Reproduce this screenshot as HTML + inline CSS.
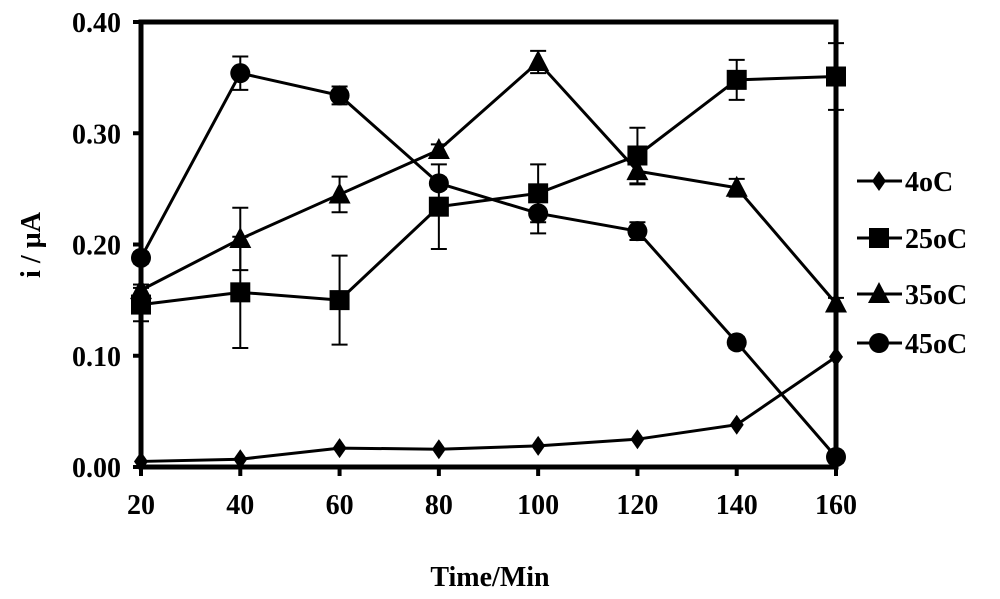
<!DOCTYPE html>
<html><head><meta charset="utf-8"><style>
body{margin:0;background:#fff}
svg text{font-family:"Liberation Serif",serif;font-weight:bold;fill:#000}
</style></head><body>
<svg id="c" width="1000" height="594"></svg>
<script>
const times=[20,40,60,80,100,120,140,160];
const s4=[0.005,0.007,0.017,0.016,0.019,0.025,0.038,0.099];
const s25=[0.146,0.157,0.150,0.234,0.246,0.280,0.348,0.351];
const e25=[0.015,0.05,0.04,0.038,0.026,0.025,0.018,0.03];
const s35=[0.159,0.205,0.245,0.285,0.364,0.266,0.251,0.147];
const e35=[0.005,0.028,0.016,0.005,0.01,0.012,0.008,0.005];
const s45=[0.188,0.354,0.334,0.255,0.228,0.212,0.112,0.009];
const e45=[0.005,0.015,0.008,0.005,0.018,0.008,0.005,0.005];
const yTicks=[0,0.1,0.2,0.3,0.4];
const yLabels=["0.00","0.10","0.20","0.30","0.40"];
const xTicks=[20,40,60,80,100,120,140,160];
const legendLabels=["4oC","25oC","35oC","45oC"];

const NS="http://www.w3.org/2000/svg";
const svg=document.getElementById('c');
const X0=141,X1=836,Y0=467,Y1=22;
const x=v=>X0+(v-20)/140*(X1-X0);
const y=v=>Y0-v/0.4*(Y0-Y1);
function el(t,a,p){const e=document.createElementNS(NS,t);for(const k in a)e.setAttribute(k,a[k]);(p||svg).appendChild(e);return e;}

let g=el('g',{});


el('rect',{x:X0,y:Y1,width:X1-X0,height:Y0-Y1,fill:'none',stroke:'#000','stroke-width':5},g);

yTicks.forEach((v,i)=>{
 const t=el('line',{x1:X0-8,x2:X0,y1:y(v),y2:y(v),stroke:'#000','stroke-width':4});
 
 
 const tx=el('text',{x:X0-20,y:y(v)+10,'text-anchor':'end','font-size':28});
 tx.textContent=yLabels[i];
 
 
});
xTicks.forEach(v=>{
 const t=el('line',{x1:x(v),x2:x(v),y1:Y0,y2:Y0+9,stroke:'#000','stroke-width':4});
 
 
 const tx=el('text',{x:x(v),y:Y0+47,'text-anchor':'middle','font-size':28});
 tx.textContent=v;
 
 
});
let t=el('text',{x:490,y:586,'text-anchor':'middle','font-size':28});
t.textContent='Time/Min';


t=el('text',{x:0,y:0,'text-anchor':'middle','font-size':28,transform:'translate(40,245) rotate(-90)'});
t.textContent='i / µA';



function marker(type,cx,cy,p){
 if(type==='d') return el('polygon',{points:`${cx},${cy-10} ${cx+7},${cy} ${cx},${cy+10} ${cx-7},${cy}`,fill:'#000'},p);
 if(type==='s') return el('rect',{x:cx-10,y:cy-10,width:20,height:20,fill:'#000'},p);
 if(type==='t') return el('polygon',{points:`${cx},${cy-12} ${cx+11},${cy+9} ${cx-11},${cy+9}`,fill:'#000'},p);
 return el('circle',{cx:cx,cy:cy,r:10,fill:'#000'},p);
}
function series(vals,errs,type,name){
 const sg=el('g',{});
 
 
 if(errs) vals.forEach((v,i)=>{
  const cx=x(times[i]);
  el('line',{x1:cx,x2:cx,y1:y(v-errs[i]),y2:y(v+errs[i]),stroke:'#000','stroke-width':2},sg);
  el('line',{x1:cx-8,x2:cx+8,y1:y(v-errs[i]),y2:y(v-errs[i]),stroke:'#000','stroke-width':2},sg);
  el('line',{x1:cx-8,x2:cx+8,y1:y(v+errs[i]),y2:y(v+errs[i]),stroke:'#000','stroke-width':2},sg);
 });
 el('polyline',{points:vals.map((v,i)=>x(times[i])+','+y(v)).join(' '),fill:'none',stroke:'#000','stroke-width':3},sg);
 vals.forEach((v,i)=>{
  const m=marker(type,x(times[i]),y(v),sg);
  
  
 });
}
series(s4,null,'d','series-4oC');
series(s25,e25,'s','series-25oC');
series(s35,e35,'t','series-35oC');
series(s45,e45,'c','series-45oC');

const types=['d','s','t','c'];
const ly=[181,238,294,343];
legendLabels.forEach((l,i)=>{
 const lg=el('g',{});
 
 
 el('line',{x1:857,x2:902,y1:ly[i],y2:ly[i],stroke:'#000','stroke-width':3},lg);
 marker(types[i],879,ly[i],lg);
 const tx=el('text',{x:905,y:ly[i]+10,'font-size':28},lg);
 tx.textContent=l;
});
</script>
</body></html>
